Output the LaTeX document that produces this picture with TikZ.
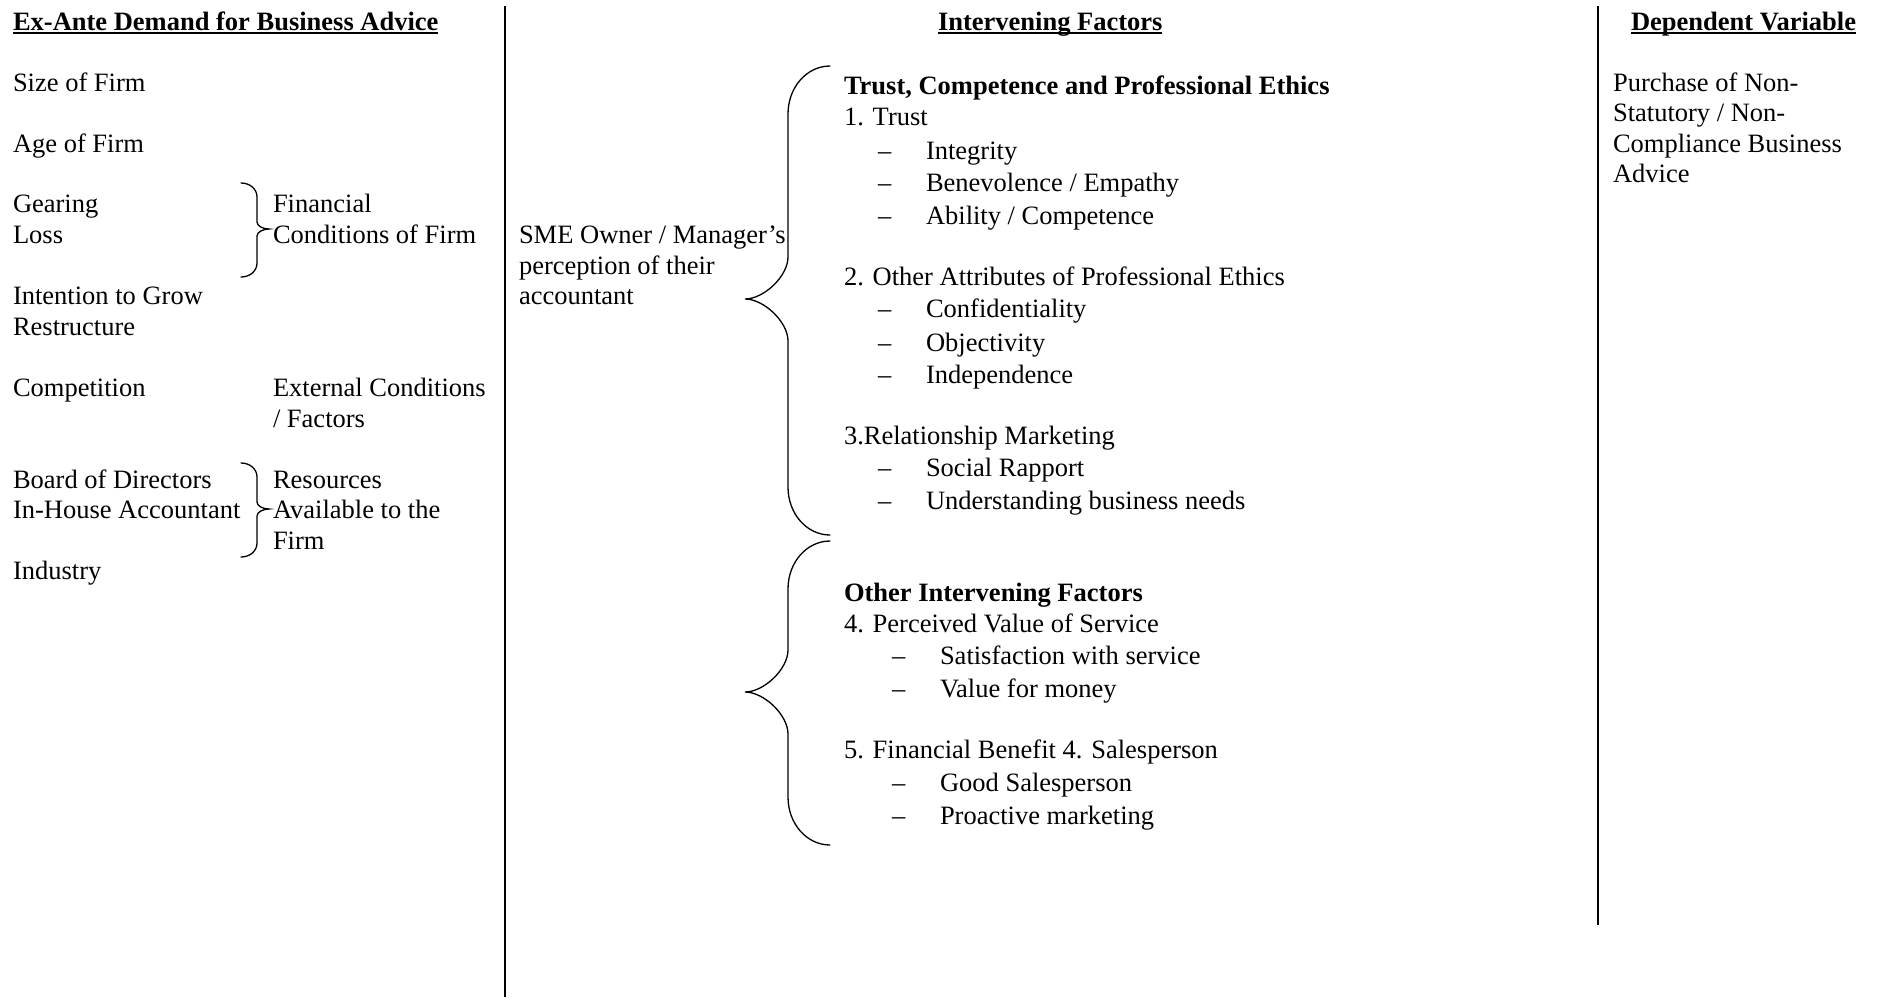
\documentclass[tikz,border=0pt]{standalone}
\usepackage{fontspec}
\setmainfont{Liberation Serif}
\begin{document}
\begin{tikzpicture}[x=1pt,y=-1pt,
  every node/.style={font=\fontsize{26.5}{30.5}\selectfont},
  txt/.style={anchor=base west,inner sep=0pt,outer sep=0pt},
  hdr/.style={txt,font=\fontsize{26.5}{30.5}\selectfont\bfseries},
  divider/.style={line width=2.3pt},
  bracepath/.style={line width=1.3pt,line cap=round},
  uline/.style={line width=1.4pt}]
\useasboundingbox (0,0) rectangle (1878,997);

% column dividers
\coordinate (v1t) at (505,6);   \coordinate (v1b) at (505,997);
\coordinate (v2t) at (1598,6);  \coordinate (v2b) at (1598,925);
\draw[divider] (v1t) -- (v1b);
\draw[divider] (v2t) -- (v2b);

% headings
\node[hdr] (h1) at (13,30)   {Ex-Ante Demand for Business Advice};
\node[hdr] (h2) at (938,30)  {Intervening Factors};
\node[hdr] (h3) at (1631,30) {Dependent Variable};
\foreach \h in {h1,h2,h3}
  \draw[uline] ([yshift=-3pt]\h.base west) -- ([yshift=-3pt]\h.base east);

% left column
\node[txt] (size)  at (13,91)  {Size of Firm};
\node[txt] (age)   at (13,152) {Age of Firm};
\node[txt] (gear)  at (13,212) {Gearing};
\node[txt] (loss)  at (13,243) {Loss};
\node[txt] (grow)  at (13,304) {Intention to Grow};
\node[txt] (restr) at (13,335) {Restructure};
\node[txt] (comp)  at (13,396) {Competition};
\node[txt] (board) at (13,488) {Board of Directors};
\node[txt] (inhse) at (13,518) {In-House Accountant};
\node[txt] (indus) at (13,579) {Industry};

\node[txt] (fin1) at (273,212) {Financial};
\node[txt] (fin2) at (273,243) {Conditions of Firm};
\node[txt] (ext1) at (273,396) {External Conditions};
\node[txt] (ext2) at (273,427) {/ Factors};
\node[txt] (res1) at (273,488) {Resources};
\node[txt] (res2) at (273,518) {Available to the};
\node[txt] (res3) at (273,549) {Firm};

% small braces: ends x=241, spine x=257, tip x=269
\draw[bracepath] (241,183) .. controls (250,183) and (257,189) .. (257,197)
  -- (257,222) .. controls (257,226) and (263,229) .. (269,229)
  .. controls (263,229) and (257,232) .. (257,236)
  -- (257,263) .. controls (257,271) and (250,277) .. (241,277);
\draw[bracepath] (241,463) .. controls (250,463) and (257,469) .. (257,477)
  -- (257,502) .. controls (257,506) and (263,509) .. (269,509)
  .. controls (263,509) and (257,512) .. (257,516)
  -- (257,543) .. controls (257,551) and (250,557) .. (241,557);

% middle column
\node[txt] (sme1) at (519,243) {SME Owner / Manager’s};
\node[txt] (sme2) at (519,274) {perception of their};
\node[txt] (sme3) at (519,304) {accountant};

% large braces: ends x=830, spine x=788, tip x=745
\draw[bracepath] (830,66) .. controls (807,66) and (788,87) .. (788,114)
  -- (788,257) .. controls (788,276) and (764,299) .. (745,299)
  .. controls (764,299) and (788,322) .. (788,341)
  -- (788,487) .. controls (788,514) and (807,535) .. (830,535);
\draw[bracepath] (830,541) .. controls (807,541) and (788,562) .. (788,589)
  -- (788,650) .. controls (788,669) and (764,692) .. (745,692)
  .. controls (764,692) and (788,715) .. (788,734)
  -- (788,797) .. controls (788,824) and (807,845) .. (830,845);

\node[hdr] (tcp)  at (844,94)  {Trust, Competence and Professional Ethics};
\node[txt] (i1)   at (844,125) {1. Trust};
\node[txt] (d1)   at (878,159) {–}; \node[txt] (t1) at (926,159) {Integrity};
\node[txt] (d2)   at (878,191) {–}; \node[txt] (t2) at (926,191) {Benevolence / Empathy};
\node[txt] (d3)   at (878,224) {–}; \node[txt] (t3) at (926,224) {Ability / Competence};
\node[txt] (i2)   at (844,285) {2. Other Attributes of Professional Ethics};
\node[txt] (d4)   at (878,317) {–}; \node[txt] (t4) at (926,317) {Confidentiality};
\node[txt] (d5)   at (878,351) {–}; \node[txt] (t5) at (926,351) {Objectivity};
\node[txt] (d6)   at (878,383) {–}; \node[txt] (t6) at (926,383) {Independence};
\node[txt] (i3)   at (844,444) {3.Relationship Marketing};
\node[txt] (d7)   at (878,476) {–}; \node[txt] (t7) at (926,476) {Social Rapport};
\node[txt] (d8)   at (878,509) {–}; \node[txt] (t8) at (926,509) {Understanding business needs};

\node[hdr] (oif)  at (844,601) {Other Intervening Factors};
\node[txt] (i4)   at (844,632) {4. Perceived Value of Service};
\node[txt] (d9)   at (892,664) {–}; \node[txt] (t9)  at (940,664) {Satisfaction with service};
\node[txt] (d10)  at (892,697) {–}; \node[txt] (t10) at (940,697) {Value for money};
\node[txt] (i5)   at (844,758) {5. Financial Benefit 4. Salesperson};
\node[txt] (d11)  at (892,791) {–}; \node[txt] (t11) at (940,791) {Good Salesperson};
\node[txt] (d12)  at (892,824) {–}; \node[txt] (t12) at (940,824) {Proactive marketing};

% right column
\node[txt] (dv1) at (1613,91)  {Purchase of Non-};
\node[txt] (dv2) at (1613,121) {Statutory / Non-};
\node[txt] (dv3) at (1613,152) {Compliance Business};
\node[txt] (dv4) at (1613,182) {Advice};
\end{tikzpicture}
\end{document}
